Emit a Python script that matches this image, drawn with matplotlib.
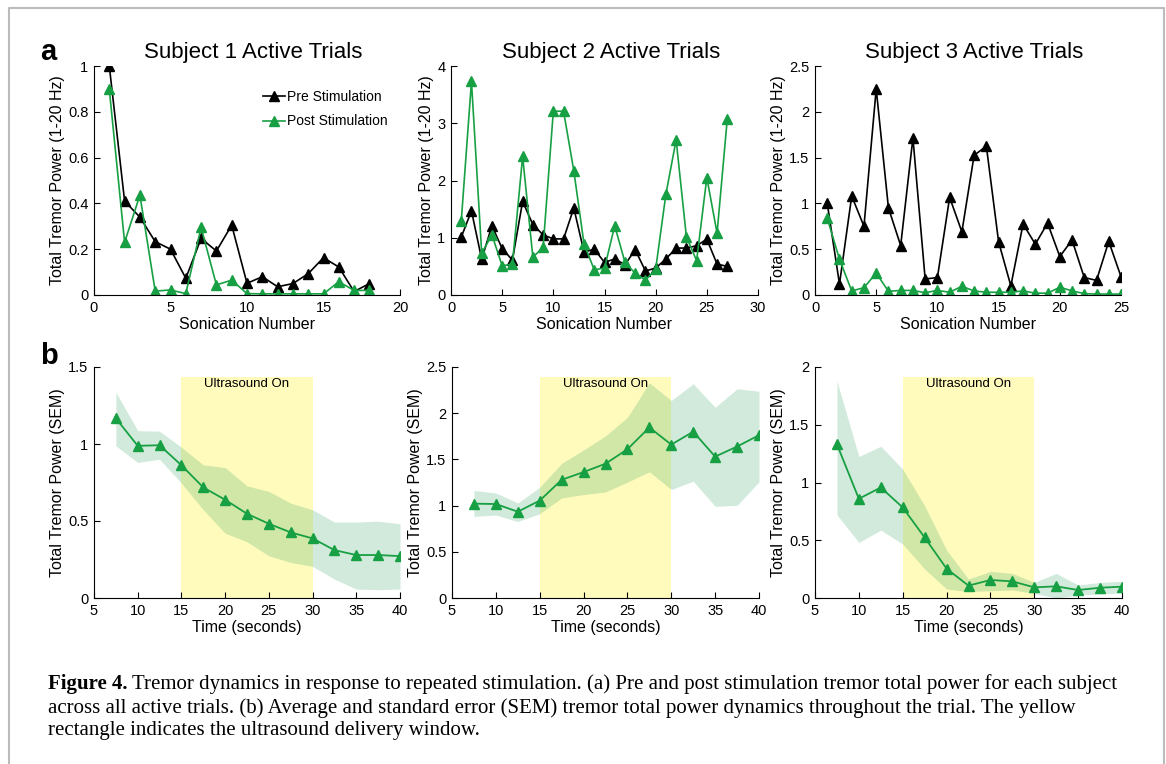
import matplotlib
matplotlib.use('Agg')
import matplotlib.pyplot as plt
from matplotlib.patches import Rectangle
from matplotlib.ticker import FormatStrFormatter
import numpy as np

plt.rcParams['font.family'] = ['Liberation Sans', 'DejaVu Sans']

# ---- data: panel a (per sonication) ----
s1_pre = [1.0, 0.41, 0.34, 0.233, 0.20, 0.073, 0.247, 0.192, 0.305, 0.051, 0.08, 0.036,
          0.05, 0.093, 0.163, 0.122, 0.015, 0.05]
s1_post = [0.898, 0.23, 0.436, 0.017, 0.022, 0.006, 0.295, 0.044, 0.065, 0.006, 0.005, 0.005,
           0.005, 0.005, 0.005, 0.058, 0.02, 0.02]

s2_pre = [1.01, 1.47, 0.625, 1.21, 0.81, 0.61, 1.635, 1.23, 1.05, 0.98, 0.98, 1.52, 0.75,
          0.80, 0.57, 0.63, 0.53, 0.79, 0.42, 0.47, 0.63, 0.82, 0.82, 0.86, 0.975, 0.54, 0.50]
s2_post = [1.285, 3.73, 0.73, 1.05, 0.51, 0.54, 2.42, 0.66, 0.83, 3.21, 3.21, 2.17, 0.89,
           0.44, 0.47, 1.21, 0.57, 0.38, 0.26, 0.45, 1.76, 2.71, 1.02, 0.6, 2.05, 1.08, 3.08]

s3_pre = [1.0, 0.12, 1.08, 0.75, 2.25, 0.95, 0.54, 1.715, 0.175, 0.19, 1.065, 0.69, 1.525,
          1.625, 0.58, 0.10, 0.775, 0.555, 0.785, 0.42, 0.60, 0.19, 0.16, 0.585, 0.20]
s3_post = [0.84, 0.39, 0.044, 0.08, 0.24, 0.04, 0.05, 0.05, 0.025, 0.05, 0.03, 0.095, 0.044,
           0.03, 0.03, 0.03, 0.045, 0.02, 0.02, 0.085, 0.045, 0.015, 0.01, 0.01, 0.01]

# ---- data: panel b (time course, mean and SEM band) ----
times = [7.5, 10, 12.5, 15, 17.5, 20, 22.5, 25, 27.5, 30, 32.5, 35, 37.5, 40]

b1_mean = [1.167, 0.988, 0.992, 0.862, 0.718, 0.638, 0.547, 0.482, 0.426, 0.387, 0.311, 0.279, 0.279, 0.272]
b1_hi = [1.336, 1.087, 1.083, 0.979, 0.864, 0.847, 0.728, 0.692, 0.616, 0.573, 0.493, 0.493, 0.499, 0.482]
b1_lo = [0.988, 0.880, 0.901, 0.746, 0.573, 0.421, 0.365, 0.274, 0.231, 0.205, 0.123, 0.058, 0.054, 0.058]

b2_mean = [1.021, 1.017, 0.934, 1.054, 1.279, 1.363, 1.453, 1.61, 1.846, 1.66, 1.80, 1.53, 1.639, 1.762]
b2_hi = [1.163, 1.137, 1.028, 1.199, 1.457, 1.602, 1.755, 1.955, 2.329, 2.137, 2.318, 2.064, 2.264, 2.238]
b2_lo = [0.883, 0.898, 0.828, 0.912, 1.083, 1.119, 1.148, 1.254, 1.366, 1.174, 1.265, 0.992, 1.003, 1.257]

b3_mean = [1.331, 0.859, 0.957, 0.784, 0.524, 0.254, 0.107, 0.156, 0.144, 0.092, 0.101, 0.069, 0.089, 0.098]
b3_hi = [1.879, 1.225, 1.314, 1.115, 0.798, 0.415, 0.164, 0.231, 0.213, 0.135, 0.213, 0.112, 0.135, 0.144]
b3_lo = [0.72, 0.481, 0.588, 0.467, 0.251, 0.078, 0.055, 0.063, 0.069, 0.040, 0.0, 0.026, 0.035, 0.043]

us_window = (15, 30)

titles = ['Subject 1 Active Trials', 'Subject 2 Active Trials', 'Subject 3 Active Trials']

GREEN = '#17a043'
BAND = '#1a9850'
YELLOW = '#fffbbd'

W, H = 1166, 764
fig = plt.figure(figsize=(W / 100, H / 100), dpi=100)


def px_axes(left, top, right, bottom):
    return fig.add_axes([left / W, 1 - bottom / H, (right - left) / W, (bottom - top) / H])


def style(ax):
    ax.spines['top'].set_visible(False)
    ax.spines['right'].set_visible(False)
    ax.tick_params(direction='in', length=4, width=0.8, labelsize=10.5, pad=4)
    ax.yaxis.set_major_formatter(FormatStrFormatter('%g'))


# ---- row a ----
a_lefts = [94, 451, 815]
a_rights = [400, 758, 1121]
pre_sets = [s1_pre, s2_pre, s3_pre]
post_sets = [s1_post, s2_post, s3_post]
a_xlim = [20, 30, 25]
a_ylim = [1, 4, 2.5]
a_yticks = [np.arange(0, 1.01, 0.2), np.arange(0, 4.01, 1), np.arange(0, 2.51, 0.5)]

for i in range(3):
    ax = px_axes(a_lefts[i], 66, a_rights[i], 295)
    n = np.arange(1, len(pre_sets[i]) + 1)
    ax.plot(n, pre_sets[i], color='black', lw=1.2, marker='^', ms=6.5, label='Pre Stimulation')
    ax.plot(n, post_sets[i], color=GREEN, lw=1.2, marker='^', ms=6.5, label='Post Stimulation')
    ax.set_xlim(0, a_xlim[i])
    ax.set_ylim(0, a_ylim[i])
    ax.set_yticks(a_yticks[i])
    style(ax)
    ax.set_xlabel('Sonication Number', fontsize=11.5, labelpad=2)
    ax.set_ylabel('Total Tremor Power (1-20 Hz)', fontsize=11.5, labelpad=2)
    ax.set_title(titles[i], fontsize=16, pad=6, x=0.52)
    if i == 0:
        ax.legend(loc='upper right', bbox_to_anchor=(1.0, 0.95), frameon=False, fontsize=10,
                  handlelength=1.6, handletextpad=0.1, labelspacing=0.75)

# ---- row b ----
b_lefts = [94, 452, 815]
b_rights = [400, 759, 1122]
means = [b1_mean, b2_mean, b3_mean]
his = [b1_hi, b2_hi, b3_hi]
los = [b1_lo, b2_lo, b3_lo]
b_ylim = [1.5, 2.5, 2]

for i in range(3):
    ax = px_axes(b_lefts[i], 367, b_rights[i], 598)
    ax.add_patch(Rectangle((us_window[0], 0), us_window[1] - us_window[0], 0.955,
                           transform=ax.get_xaxis_transform(), facecolor=YELLOW,
                           edgecolor='none', zorder=0))
    ax.text(sum(us_window) / 2, 0.925, 'Ultrasound On', transform=ax.get_xaxis_transform(),
            ha='center', va='center', fontsize=9.5)
    ax.fill_between(times, los[i], his[i], color=BAND, alpha=0.2, lw=0, zorder=1)
    ax.plot(times, means[i], color=GREEN, lw=1.3, marker='^', ms=7, zorder=3)
    ax.set_xlim(5, 40)
    ax.set_ylim(0, b_ylim[i])
    ax.set_xticks(np.arange(5, 41, 5))
    ax.set_yticks(np.arange(0, b_ylim[i] + 0.01, 0.5))
    style(ax)
    ax.set_xlabel('Time (seconds)', fontsize=11.5, labelpad=2)
    ax.set_ylabel('Total Tremor Power (SEM)', fontsize=11.5, labelpad=2)

# panel letters
fig.text(40 / W, 1 - 52 / H, 'a', fontsize=21, fontweight='bold', va='center')
fig.text(40 / W, 1 - 356 / H, 'b', fontsize=21, fontweight='bold', va='center')

# outer frame
fig.add_artist(plt.Line2D([9 / W, 9 / W, 1164 / W, 1164 / W], [0, 1 - 8 / H, 1 - 8 / H, 0],
                          transform=fig.transFigure, color='#bbbbbb', lw=1.5))

# caption
cap_font = ['Liberation Serif', 'DejaVu Serif']
cap_size = 15
lines = ['Tremor dynamics in response to repeated stimulation. (a) Pre and post stimulation tremor total power for each subject',
         'across all active trials. (b) Average and standard error (SEM) tremor total power dynamics throughout the trial. The yellow',
         'rectangle indicates the ultrasound delivery window.']
cap_x = 48 / W
t0 = fig.text(cap_x, 1 - 684 / H, 'Figure 4.', family=cap_font, fontsize=cap_size,
              fontweight='bold', va='center')
fig.canvas.draw()
bb = t0.get_window_extent()
fig.text(bb.x1 / W + 4 / W, 1 - 684 / H, lines[0], family=cap_font, fontsize=cap_size, va='center')
fig.text(cap_x, 1 - 708 / H, lines[1], family=cap_font, fontsize=cap_size, va='center')
fig.text(cap_x, 1 - 731 / H, lines[2], family=cap_font, fontsize=cap_size, va='center')

fig.savefig('out.png', dpi=100)
